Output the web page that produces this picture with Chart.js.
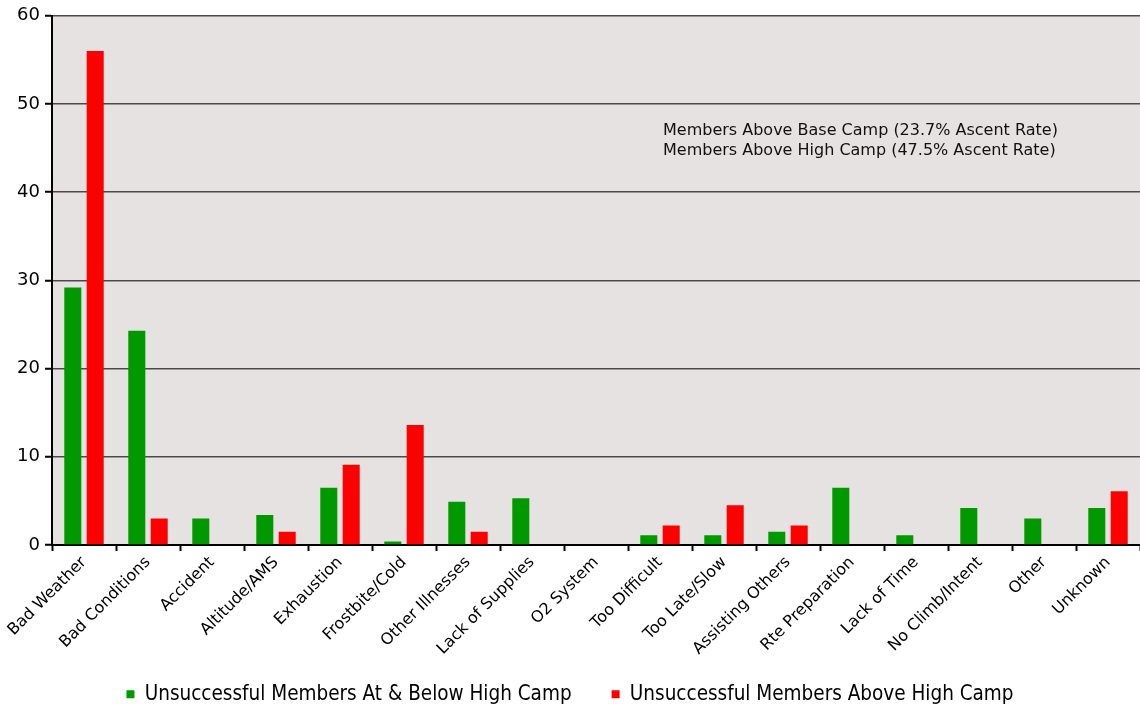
<!DOCTYPE html>
<html>
<head>
<meta charset="utf-8">
<script src="https://cdn.jsdelivr.net/npm/chart.js@4"></script>
<style>
  html, body { margin: 0; padding: 0; background: #fff; }
  #wrap { width: 1140px; height: 709px; }
</style>
</head>
<body>
<div id="wrap"><canvas id="grafico"></canvas></div>
<script>
const categorias = ["Bad Weather", "Bad Conditions", "Accident", "Altitude/AMS", "Exhaustion",
  "Frostbite/Cold", "Other Illnesses", "Lack of Supplies", "O2 System", "Too Difficult",
  "Too Late/Slow", "Assisting Others", "Rte Preparation", "Lack of Time", "No Climb/Intent",
  "Other", "Unknown"];
const abaixoHighCamp = [29.2, 24.3, 3.0, 3.4, 6.5, 0.4, 4.9, 5.3, 0, 1.1, 1.1, 1.5, 6.5, 1.1, 4.2, 3.0, 4.2];
const acimaHighCamp = [56.0, 3.0, 0, 1.5, 9.1, 13.6, 1.5, 0, 0, 2.2, 4.5, 2.2, 0, 0, 0, 0, 6.1];
const notas = ["Members Above Base Camp (23.7% Ascent Rate)", "Members Above High Camp (47.5% Ascent Rate)"];

// fundo cinza da área do gráfico + texto das taxas
const fundoPlugin = {
  id: "fundo",
  beforeDraw(chart) {
    const a = chart.chartArea;
    const ctx = chart.ctx;
    ctx.save();
    ctx.fillStyle = "#e7e2e2";
    ctx.fillRect(a.left, a.top, a.right - a.left, a.bottom - a.top);
    ctx.restore();
  },
  afterDraw(chart) {
    const ctx = chart.ctx;
    const x = chart.scales.x.getPixelForValue(9) + 3;
    const y = chart.scales.y;
    ctx.save();
    ctx.fillStyle = "#111";
    ctx.font = "16px 'DejaVu Sans'";
    ctx.textBaseline = "middle";
    ctx.fillText(notas[0], x, y.getPixelForValue(47.0));
    ctx.fillText(notas[1], x, y.getPixelForValue(44.7));
    ctx.restore();
  }
};

const ctx = document.getElementById("grafico").getContext("2d");
window.grafico = new Chart(ctx, {
  type: "bar",
  data: {
    labels: categorias,
    datasets: [{
      label: "Unsuccessful Members At & Below High Camp",
      data: abaixoHighCamp,
      backgroundColor: "#009900",
      borderWidth: 0,
      categoryPercentage: 0.7,
      barPercentage: 0.76
    }, {
      label: "Unsuccessful Members Above High Camp",
      data: acimaHighCamp,
      backgroundColor: "#ff0000",
      borderWidth: 0,
      categoryPercentage: 0.7,
      barPercentage: 0.76
    }]
  },
  options: {
    responsive: true,
    maintainAspectRatio: false,
    animation: false,
    layout: { padding: { top: 15, right: 0, left: 0, bottom: 0 } },
    plugins: {
      tooltip: { enabled: false },
      legend: {
        position: "bottom",
        maxHeight: 65,
        labels: {
          color: "#000",
          font: { family: "'DejaVu Sans Condensed', 'DejaVu Sans'", size: 20.5 },
          boxWidth: 8,
          boxHeight: 8,
          padding: 40
        }
      }
    },
    scales: {
      x: {
        afterFit(scale) {
          scale.height = 99;
          // rótulos longos passam por cima da área da legenda
          scale._computeLabelArea = () => undefined;
        },
        grid: { offset: true, drawOnChartArea: false, tickLength: 6, tickColor: "#000", tickWidth: 2 },
        border: { color: "#000", width: 2 },
        ticks: {
          color: "#000",
          font: { family: "'DejaVu Sans'", size: 16 },
          maxRotation: 45,
          minRotation: 45,
          autoSkip: false,
          padding: 2
        }
      },
      y: {
        min: 0,
        max: 60,
        afterFit(scale) { scale.width = 52; },
        grid: { color: "#4a4a4a", lineWidth: 1.5, tickLength: 7, tickColor: "#000", tickWidth: 2 },
        border: { color: "#000", width: 2 },
        ticks: {
          stepSize: 10,
          color: "#000",
          font: { family: "'DejaVu Sans'", size: 18 },
          padding: 5
        }
      }
    }
  },
  plugins: [fundoPlugin]
});
</script>
</body>
</html>
